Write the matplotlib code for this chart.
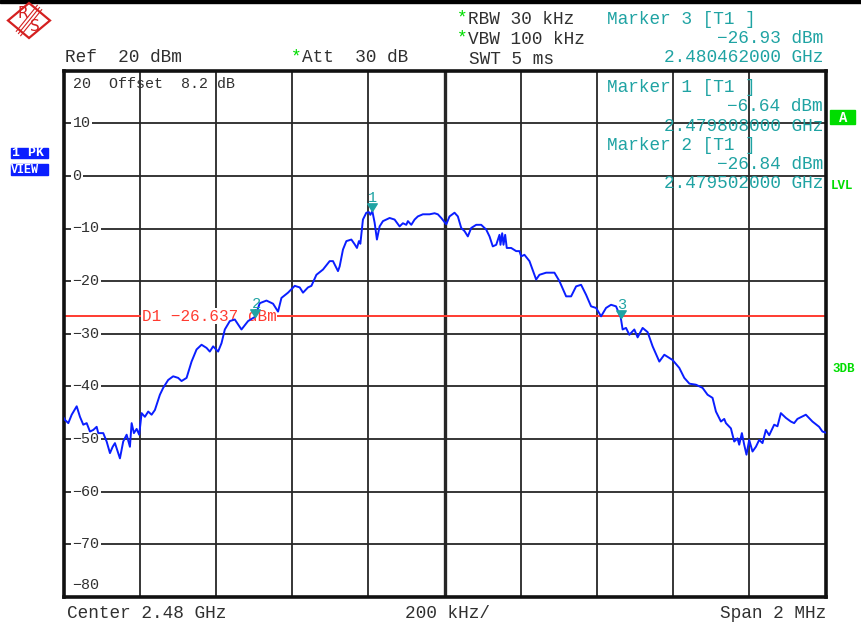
import numpy as np
import matplotlib
matplotlib.use("Agg")
import matplotlib.pyplot as plt
from matplotlib.patches import Rectangle, Polygon
from matplotlib.path import Path

# spectrum trace: offset from centre (kHz) and level (dBm)
freq_khz = [-1000, -996.6, -987.9, -979.0, -965.9, -957.3, -948.6, -939.7, -931.1, -922.4,
            -913.5, -909.3, -896.2, -887.3, -878.6, -871.5, -865.5, -859.5, -852.4, -843.8,
            -834.8, -826.2, -821.7, -815.7, -808.6, -801.8, -795.5, -786.9, -778.2, -769.3,
            -760.6, -747.5, -738.9, -725.8, -712.7, -699.6, -690.7, -677.5, -664.4, -651.3,
            -638.2, -625.1, -616.5, -607.8, -594.7, -585.8, -577.1, -564.0, -550.9, -533.4,
            -516.1, -498.0, -485.4, -467.8, -450.5, -437.4, -428.5, -411.2, -393.6, -380.5,
            -371.9, -358.8, -349.8, -336.7, -319.4, -301.9, -293.2, -280.1, -275.7, -267.0,
            -258.1, -245.0, -236.3, -230.3, -225.1, -221.4, -214.6, -205.7, -198.8, -195.2,
            -189.9, -183.9, -177.9, -170.8, -162.1, -144.6, -131.5, -118.4, -109.7, -100.8,
            -96.6, -87.7, -79.0, -70.4, -57.3, -39.7, -26.6, -18.0, -9.0, 4.1,
            12.7, 25.8, 34.5, 43.4, 52.1, 60.7, 69.6, 82.7, 95.8, 108.9,
            117.6, 126.2, 135.2, 143.8, 146.4, 150.9, 154.3, 158.7, 162.9, 174.5,
            187.6, 196.2, 200.7, 209.3, 222.5, 231.1, 240.0, 248.7, 266.2, 288.0,
            301.1, 318.7, 331.8, 344.9, 358.0, 371.1, 384.2, 397.3, 410.4, 423.5,
            436.6, 449.7, 462.0, 467.0, 475.9, 484.6, 497.7, 506.4, 519.5, 532.6,
            545.7, 563.3, 576.4, 598.1, 615.7, 628.8, 642.3, 659.5, 676.8, 689.9,
            703.0, 711.9, 725.0, 733.7, 738.1, 751.2, 759.9, 768.5, 773.0, 780.0,
            786.1, 792.1, 799.2, 807.9, 816.8, 825.4, 834.1, 843.0, 851.7, 864.8,
            873.4, 882.3, 895.4, 908.5, 917.2, 925.8, 947.9, 965.2, 982.7, 991.4,
            1000]
level_dbm = [-46.0, -46.4, -47.0, -45.4, -43.8, -45.8, -47.3, -47.0, -48.6, -48.3,
             -47.7, -48.9, -48.9, -50.5, -52.7, -51.5, -50.8, -52.1, -53.7, -50.5,
             -49.2, -51.5, -47.0, -48.9, -48.1, -49.2, -45.1, -45.8, -44.8, -45.4,
             -44.5, -41.6, -40.3, -38.8, -38.1, -38.4, -39.0, -38.4, -35.3, -33.0,
             -32.1, -32.7, -33.4, -32.4, -33.4, -31.8, -29.2, -27.6, -27.3, -29.2,
             -27.6, -26.8, -24.2, -23.7, -24.3, -25.8, -23.2, -22.2, -20.9, -21.2,
             -22.2, -21.2, -20.9, -18.8, -17.8, -16.2, -16.2, -18.1, -17.2, -14.0,
             -12.4, -12.1, -13.0, -13.7, -12.4, -12.9, -8.3, -7.0, -6.9, -7.4,
             -6.7, -8.9, -12.1, -9.6, -8.6, -8.0, -8.3, -9.6, -9.0, -9.3,
             -8.6, -9.3, -8.3, -7.7, -7.3, -7.3, -7.1, -7.3, -8.0, -9.2,
             -7.7, -7.0, -7.7, -9.9, -10.5, -11.5, -9.9, -9.3, -9.3, -10.2,
             -11.5, -13.4, -13.1, -11.2, -13.1, -10.9, -13.1, -11.2, -13.7, -13.7,
             -14.3, -14.3, -15.3, -15.0, -16.2, -17.9, -19.7, -18.8, -18.4, -18.4,
             -20.0, -22.9, -22.9, -21.0, -20.7, -22.6, -24.8, -25.1, -26.7, -25.1,
             -24.5, -24.8, -26.9, -29.2, -28.9, -30.2, -29.2, -30.7, -28.9, -29.7,
             -32.4, -35.3, -34.0, -35.0, -36.5, -38.4, -39.5, -39.7, -40.3, -41.6,
             -42.2, -44.8, -46.7, -46.2, -47.0, -48.0, -50.5, -49.9, -51.1, -48.9,
             -51.1, -53.0, -50.2, -52.4, -51.5, -50.2, -50.8, -48.3, -49.3, -47.3,
             -47.6, -45.1, -46.0, -46.7, -47.0, -46.2, -45.4, -46.7, -47.7, -48.6,
             -48.8]

center_ghz = 2.48
marker_ids = ["1", "2", "3"]
marker_ghz = [2.479808, 2.479502, 2.480462]
marker_dbm = [-6.64, -26.84, -26.93]
d1_dbm = -26.637
y_ticks = [10, 0, -10, -20, -30, -40, -50, -60, -70, -80]

W, H = 862, 628
GRID = "#262626"
TXT = "#303030"
TEAL = "#1fa3a3"
GREEN = "#00dd00"
RED = "#ff3b30"
LOGO = "#d42020"
FONT = "Liberation Mono"


def fp(x, y):
    return x / W, 1 - y / H


fig = plt.figure(figsize=(W / 100, H / 100), dpi=100)
ax = fig.add_axes([63.7 / W, 1 - 596.7 / H, 762 / W, 526 / H])
ax.set_xlim(-1000, 1000)
ax.set_ylim(-80, 20)
ax.set_xticks(np.arange(-800, 1000, 200))
ax.set_yticks(y_ticks[:-1])
ax.tick_params(length=0, labelleft=False, labelbottom=False)
ax.grid(True, color=GRID, lw=1.3, zorder=1)
ax.axvline(0, color=GRID, lw=2.4, zorder=1.1)
for s in ax.spines.values():
    s.set_linewidth(2.6)
    s.set_color("#111111")

# y labels inside the plot
for v in y_ticks:
    lab = str(v).replace("-", "\u2212")
    va = "bottom" if v == -80 else "center"
    yy = v + 0.8 if v == -80 else v
    ax.text(0.0115, yy, lab, transform=ax.get_yaxis_transform(), fontsize=10.8,
            family=FONT, color=TXT, va=va, ha="left", zorder=2,
            bbox=dict(boxstyle="square,pad=0.08", fc="white", ec="none"))
fig.text(*fp(73, 84), "20  Offset  8.2 dB", fontsize=10.8, family=FONT, color=TXT, va="center")

# display line D1
ax.axhline(d1_dbm, color=RED, lw=1.4, zorder=2.5)
ax.text(-795, d1_dbm, f"D1 \u2212{abs(d1_dbm):.3f} dBm", fontsize=11.5, family=FONT,
        color=RED, va="center", ha="left", zorder=2.6,
        bbox=dict(boxstyle="square,pad=0.05", fc="white", ec="none"))

# trace
ax.plot(freq_khz, level_dbm, color="#0a1eff", lw=1.4, zorder=3)

# markers
tri = Path([(0, 0), (-1, 1.6), (1, 1.6), (0, 0)], [1, 2, 2, 79])
for mid, mf, ml in zip(marker_ids, marker_ghz, marker_dbm):
    mx = (mf - center_ghz) * 1e6
    ax.plot([mx], [ml], marker=tri, ms=11, color=TEAL, mec=TEAL, zorder=4, ls="none")
    ax.text(mx + 3, ml + 2.4, mid, color=TEAL, fontsize=11, family=FONT, ha="center",
            va="center", zorder=4)

# header
fs = 12.8
fig.text(*fp(65, 58), "Ref  20 dBm", fontsize=fs, family=FONT, color=TXT, va="center")
fig.text(*fp(291, 57), "*", fontsize=fs, family=FONT, color=GREEN, va="center")
fig.text(*fp(302, 58), "Att  30 dB", fontsize=fs, family=FONT, color=TXT, va="center")
fig.text(*fp(457, 18), "*", fontsize=fs, family=FONT, color=GREEN, va="center")
fig.text(*fp(468, 19), "RBW 30 kHz", fontsize=fs, family=FONT, color=TXT, va="center")
fig.text(*fp(457, 38), "*", fontsize=fs, family=FONT, color=GREEN, va="center")
fig.text(*fp(468, 39), "VBW 100 kHz", fontsize=fs, family=FONT, color=TXT, va="center")
fig.text(*fp(469, 59), "SWT 5 ms", fontsize=fs, family=FONT, color=TXT, va="center")

# marker readouts: marker 3 in header, 1 and 2 inside the grid
rows = [(2, 19), (0, 87), (1, 145)]
for idx, y0 in rows:
    fig.text(*fp(607, y0), f"Marker {marker_ids[idx]} [T1 ]", fontsize=fs, family=FONT,
             color=TEAL, va="center")
    fig.text(*fp(823, y0 + 19.5), f"\u2212{abs(marker_dbm[idx]):.2f} dBm", fontsize=fs,
             family=FONT, color=TEAL, va="center", ha="right")
    fig.text(*fp(823, y0 + 39), f"{marker_ghz[idx]:.9f} GHz", fontsize=fs, family=FONT,
             color=TEAL, va="center", ha="right")

# footer
fig.text(*fp(67, 614), f"Center {center_ghz} GHz", fontsize=fs, family=FONT, color=TXT, va="center")
fig.text(*fp(405, 614), "200 kHz/", fontsize=fs, family=FONT, color=TXT, va="center")
fig.text(*fp(826, 614), "Span 2 MHz", fontsize=fs, family=FONT, color=TXT, va="center", ha="right")

# top bar
fig.patches.append(Rectangle(fp(0, 3), 1, 3 / H, transform=fig.transFigure, color="black"))

# R&S logo
cx, cy, rx, ry = 29, 20.5, 21, 17.5
diamond = [fp(cx - rx, cy), fp(cx, cy - ry), fp(cx + rx, cy), fp(cx, cy + ry)]
fig.patches.append(Polygon(diamond, closed=True, fill=False, ec=LOGO, lw=1.6,
                           transform=fig.transFigure))
for d in (-2.2, 0, 2.2):
    x0, y0 = fp(cx + 10.5 + d, cy - 13 + d)
    x1, y1 = fp(cx - 10.5 + d, cy + 13 + d)
    fig.lines.append(plt.Line2D([x0, x1], [y0, y1], color=LOGO, lw=0.8,
                                transform=fig.transFigure))
fig.text(*fp(23, 14), "R", fontsize=11, color=LOGO, ha="center", va="center")
fig.text(*fp(34.5, 26.5), "S", fontsize=11, color=LOGO, ha="center", va="center")

# side annotations
fig.patches.append(Rectangle(fp(11, 158), 37 / W, 10 / H, transform=fig.transFigure, color="#0a1eff"))
fig.patches.append(Rectangle(fp(11, 175), 37 / W, 11 / H, transform=fig.transFigure, color="#0a1eff"))
fig.text(*fp(12, 153), "1 PK", fontsize=9.5, family=FONT, color="white", va="center",
         fontweight="bold")
fig.text(*fp(11, 170), "VIEW", fontsize=8.5, family=FONT, color="white", va="center",
         fontweight="bold")
fig.patches.append(Rectangle(fp(830, 124), 25 / W, 14 / H, transform=fig.transFigure, color=GREEN))
fig.text(*fp(843, 118), "A", fontsize=10, family=FONT, color="white", ha="center", va="center",
         fontweight="bold")
fig.text(*fp(831, 186), "LVL", fontsize=9, family=FONT, color=GREEN, va="center", fontweight="bold")
fig.text(*fp(832, 369), "3DB", fontsize=9, family=FONT, color=GREEN, va="center", fontweight="bold")

fig.savefig("out.png", dpi=100)
